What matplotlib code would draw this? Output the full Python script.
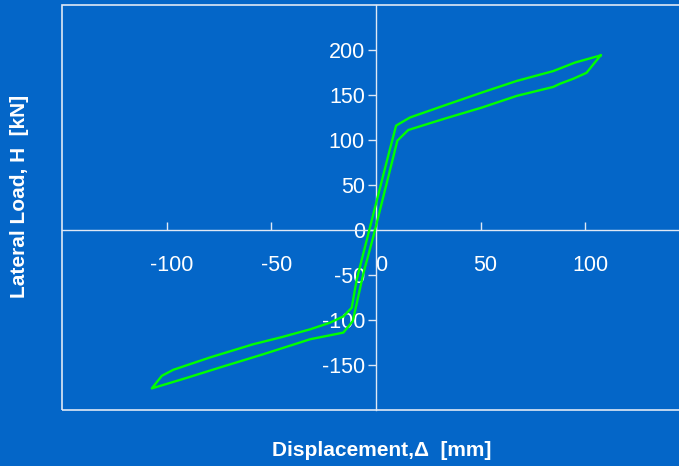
"""Lateral load vs displacement hysteresis loop on a blue slide background."""

import matplotlib.pyplot as plt
import matplotlib.transforms as mtransforms
import numpy as np
from matplotlib.patches import Rectangle

plt.rcParams.update(
    {
        "font.family": "sans-serif",
        "font.sans-serif": ["Liberation Sans", "DejaVu Sans"],
        "axes.unicode_minus": False,
    }
)

BG_COLOR = "#0466c8"
LINE_COLOR = "#dfe8f5"
LOOP_COLOR = "#00ff00"

# Upper branch: positive tip back to the negative tip (mm, kN).
upper_disp = [107.3, 95.0, 84.7, 67.2, 50.5, 32.2, 16.2, 9.6, 6.0, -2.0,
              -9.2, -11.6, -15.6, -22.0, -31.5, -45.0, -58.6, -79.3,
              -96.8, -102.3, -107.1]
upper_load = [194.0, 186.0, 176.6, 165.6, 152.7, 138.0, 125.0, 116.0, 84.0, 11.0,
              -55.0, -86.4, -96.0, -103.0, -110.4, -119.0, -126.9, -141.6,
              -155.3, -162.0, -176.0]

# Lower branch: negative tip out to the positive tip.
lower_disp = [-107.1, -90.0, -74.5, -53.8, -31.5, -15.6, -11.1, -6.0, -1.3,
              10.2, 15.4, 32.2, 50.5, 67.2, 84.7, 88.0, 94.3, 100.6, 103.8, 107.3]
lower_load = [-176.0, -164.0, -152.7, -138.0, -121.4, -114.0, -101.2, -48.0, -7.4,
              99.3, 111.1, 123.3, 136.0, 149.0, 159.0, 162.6, 168.1, 174.7, 184.0, 194.0]

x_ticks = [-100, -50, 0, 50, 100]
y_ticks = [-150, -100, -50, 0, 50, 100, 150, 200]

fig = plt.figure(figsize=(6.79, 4.66), dpi=100, facecolor=BG_COLOR)
ax = fig.add_axes([62 / 679, 1 - 410 / 466, 628 / 679, 405 / 466])
ax.set_facecolor(BG_COLOR)

loop_x = np.concatenate([upper_disp, lower_disp])
loop_y = np.concatenate([upper_load, lower_load])
ax.plot(loop_x, loop_y, color=LOOP_COLOR, lw=1.7, zorder=3)

ax.set_xlim(-150, 150)
ax.set_ylim(-200, 250)

# Axes cross at the origin; the outer box is a separate frame.
for side in ("top", "right"):
    ax.spines[side].set_visible(False)
for side in ("left", "bottom"):
    ax.spines[side].set_position("zero")
    ax.spines[side].set_color(LINE_COLOR)
    ax.spines[side].set_linewidth(1.0)
ax.add_patch(Rectangle((0, 0), 1, 1, transform=ax.transAxes, fill=False,
                       edgecolor=LINE_COLOR, lw=1.2, clip_on=False, zorder=4))

ax.set_xticks(x_ticks)
ax.set_yticks(y_ticks)
ax.tick_params(axis="x", direction="in", length=6, width=1, color=LINE_COLOR,
               labelcolor="white", labelsize=15.5, pad=18)
ax.tick_params(axis="y", direction="out", length=6, width=1, color=LINE_COLOR,
               labelcolor="white", labelsize=15.5, pad=2)

shift = mtransforms.ScaledTranslation(5 / 100, 0, fig.dpi_scale_trans)
for label in ax.get_xticklabels():
    label.set_transform(label.get_transform() + shift)

fig.text(20 / 679, 1 - 196 / 466, "Lateral Load, H  [kN]", rotation=90,
         ha="center", va="center", color="white", fontsize=15, fontweight="bold")
fig.text(382 / 679, 1 - 450 / 466, "Displacement,\u0394  [mm]",
         ha="center", va="center", color="white", fontsize=15, fontweight="bold")

fig.savefig("out.png", dpi=100, facecolor=BG_COLOR)
